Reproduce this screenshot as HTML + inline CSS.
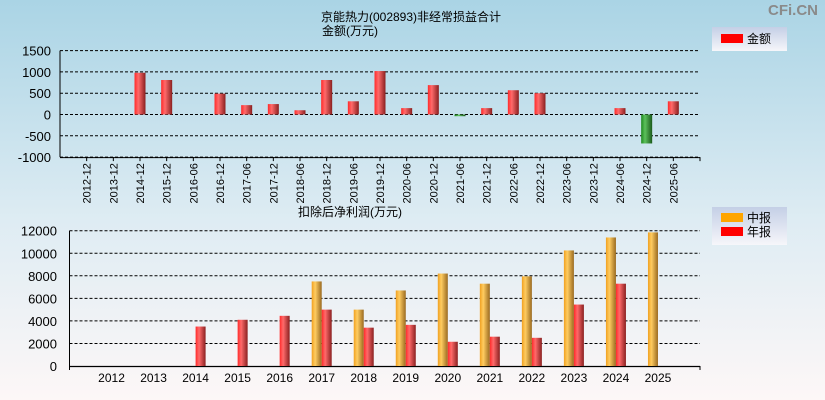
<!DOCTYPE html>
<html><head><meta charset="utf-8"><style>
body{margin:0;width:825px;height:400px;overflow:hidden;font-family:"Liberation Sans","Noto Sans CJK SC",sans-serif;}
svg{display:block}
</style></head><body>
<svg id="c" width="825" height="400" xmlns="http://www.w3.org/2000/svg">
<defs>
<linearGradient id="bg" x1="0" y1="0" x2="0" y2="1"><stop offset="0" stop-color="#aad4e5"/><stop offset="0.55" stop-color="#deecf3"/><stop offset="1" stop-color="#fdf7f7"/></linearGradient>
<linearGradient id="red" x1="0" y1="0" x2="1" y2="0"><stop offset="0" stop-color="#ff2a2a"/><stop offset="0.35" stop-color="#ff6a6a"/><stop offset="1" stop-color="#8a2020"/></linearGradient>
<linearGradient id="green" x1="0" y1="0" x2="1" y2="0"><stop offset="0" stop-color="#1f8a1f"/><stop offset="0.35" stop-color="#5cc05c"/><stop offset="1" stop-color="#1a5a1a"/></linearGradient>
<linearGradient id="orange" x1="0" y1="0" x2="1" y2="0"><stop offset="0" stop-color="#f0a020"/><stop offset="0.35" stop-color="#ffcc60"/><stop offset="1" stop-color="#9a6a20"/></linearGradient>
<linearGradient id="leg" x1="0" y1="0" x2="0" y2="1"><stop offset="0" stop-color="#c4cfe6"/><stop offset="1" stop-color="#f6f6fa"/></linearGradient>
</defs>
<rect width="825" height="400" fill="url(#bg)"/>
<text x="818" y="15" text-anchor="end" font-size="15" font-weight="bold" fill="#8a8a8a">CFi.CN</text>
<text x="411" y="21" text-anchor="middle" font-size="12">京能热力(002893)非经常损益合计</text>
<text x="322" y="35" font-size="12">金额(万元)</text>
<g><rect x="712" y="27" width="75" height="24" fill="url(#leg)"/><rect x="721" y="34" width="22" height="9" fill="#ff0000"/><text x="747" y="43" font-size="12">金额</text></g>
<text x="350" y="216" text-anchor="middle" font-size="12">扣除后净利润(万元)</text>
<g><rect x="712" y="207" width="75" height="38" fill="url(#leg)"/><rect x="721" y="213" width="22" height="9" fill="#ffa500"/><text x="747" y="222" font-size="12">中报</text><rect x="721" y="227" width="22" height="9" fill="#ff0000"/><text x="747" y="236" font-size="12">年报</text></g>
<g id="top"></g><g id="bot"></g>
</svg>
<script>
const topCats=["2012-12","2013-12","2014-12","2015-12","2016-06","2016-12","2017-06","2017-12","2018-06","2018-12","2019-06","2019-12","2020-06","2020-12","2021-06","2021-12","2022-06","2022-12","2023-06","2023-12","2024-06","2024-12","2025-06"];
const topVals=[0,0,980,810,0,490,220,245,100,810,310,1020,150,690,-40,150,570,500,0,0,150,-680,310];
const topTicks=[1500,1000,500,0,-500,-1000];
const botCats=["2012","2013","2014","2015","2016","2017","2018","2019","2020","2021","2022","2023","2024","2025"];
const midVals=[0,0,0,0,0,7500,5000,6700,8200,7300,7950,10250,11400,11850];
const annVals=[0,0,3500,4100,4450,5000,3400,3650,2150,2600,2500,5450,7300,0];
const botTicks=[12000,10000,8000,6000,4000,2000,0];
const NS="http://www.w3.org/2000/svg";
function mk(p,t,a){const e=document.createElementNS(NS,t);for(const k in a)e.setAttribute(k,a[k]);p.appendChild(e);return e;}
// top chart
const T=document.getElementById('top');
const tx0=60,tx1=700,ty=v=>114.5-v*(106.5/2500);const tslot=(tx1-tx0)/24;const tcx=i=>tx0+(i+1)*tslot;
topTicks.forEach(v=>{const l=mk(T,'line',{x1:tx0,x2:tx1,y1:ty(v),y2:ty(v),stroke:'#000','stroke-dasharray':'3,2','stroke-width':1});


const t=mk(T,'text',{x:51,y:ty(v)+5,'text-anchor':'end','font-size':13});t.textContent=v;

});
mk(T,'line',{x1:tx0,x2:tx0,y1:ty(1500),y2:ty(-1000),stroke:'#000'});
mk(T,'line',{x1:tx0,x2:tx1,y1:ty(-1000)+0.5,y2:ty(-1000)+0.5,stroke:'#000'});
topCats.forEach((c,i)=>{const x=tcx(i);
mk(T,'line',{x1:x,x2:x,y1:ty(-1000),y2:ty(-1000)+4,stroke:'#000'});
const t=mk(T,'text',{x:0,y:0,'font-size':11,'text-anchor':'end',transform:`translate(${x+4},${ty(-1000)+6}) rotate(-90)`});t.textContent=c;


const v=topVals[i];if(v!==0){const y0=ty(0),y1=ty(v);
const r=mk(T,'rect',{x:x-5.5,y:Math.min(y0,y1),width:11,height:Math.max(1,Math.abs(y1-y0)),fill:v>0?'url(#red)':'url(#green)'});

}});
mk(T,'line',{x1:tx1,x2:tx1,y1:ty(-1000),y2:ty(-1000)+4,stroke:'#000'});
// bottom chart
const B=document.getElementById('bot');
const bx0=69.5,bx1=700,by=v=>366-v*(135.3/12000);const bslot=(bx1-bx0)/15;const bcx=i=>bx0+(i+1)*bslot;
botTicks.forEach(v=>{if(v>0){const l=mk(B,'line',{x1:bx0,x2:bx1,y1:by(v),y2:by(v),stroke:'#000','stroke-dasharray':'3,2'});

}
const t=mk(B,'text',{x:57,y:by(v)+5,'text-anchor':'end','font-size':13});t.textContent=v;

});
mk(B,'line',{x1:bx0,x2:bx0,y1:by(12000),y2:by(0)+4,stroke:'#000'});
mk(B,'line',{x1:bx0,x2:bx1,y1:by(0)+0.5,y2:by(0)+0.5,stroke:'#000','stroke-width':1.2});
mk(B,'line',{x1:bx1,x2:bx1,y1:by(0),y2:by(0)+4,stroke:'#000'});
botCats.forEach((c,i)=>{const x=bcx(i);
const t=mk(B,'text',{x:x,y:by(0)+16,'text-anchor':'middle','font-size':12});t.textContent=c;


if(midVals[i]>0){const r=mk(B,'rect',{x:x-10,y:by(midVals[i]),width:10,height:by(0)-by(midVals[i]),fill:'url(#orange)'});

}
if(annVals[i]>0){const r=mk(B,'rect',{x:x,y:by(annVals[i]),width:10,height:by(0)-by(annVals[i]),fill:'url(#red)'});

}});
</script>
</body></html>
